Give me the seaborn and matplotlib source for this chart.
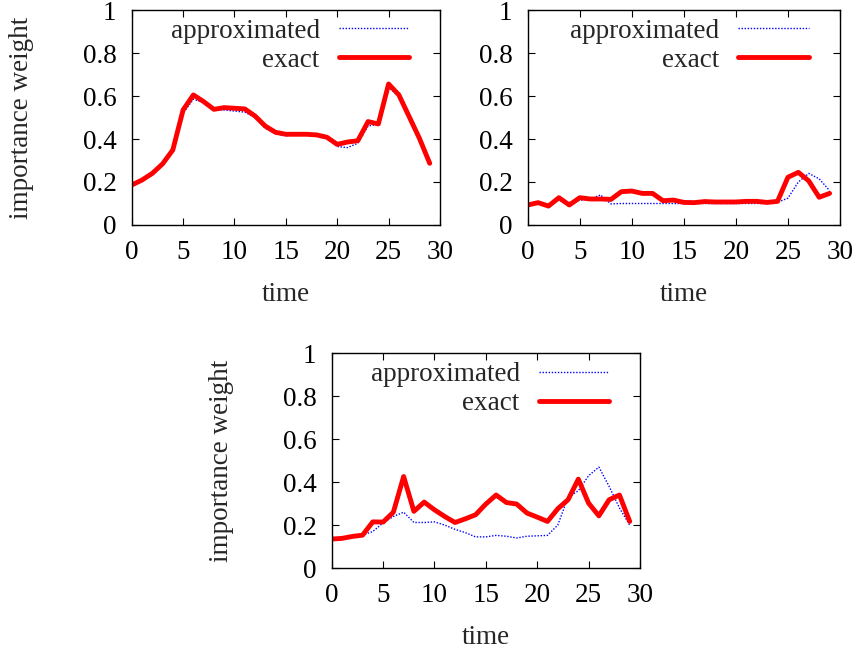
import numpy as np
import pandas as pd
import matplotlib
matplotlib.use("Agg")
import matplotlib.pyplot as plt
import seaborn as sns

# time steps 0..29
time = list(range(30))

# panel 1 (top left)
exact_1 = [0.186, 0.209, 0.24, 0.284, 0.349, 0.535, 0.605, 0.574, 0.538, 0.546,
           0.543, 0.54, 0.507, 0.46, 0.431, 0.422, 0.422, 0.422, 0.419, 0.408,
           0.375, 0.386, 0.392, 0.481, 0.47, 0.656, 0.605, 0.504, 0.403, 0.287]
approx_1 = [0.186, 0.209, 0.24, 0.284, 0.345, 0.52, 0.585, 0.57, 0.535, 0.535,
            0.53, 0.525, 0.5, 0.45, 0.425, 0.415, 0.42, 0.42, 0.419, 0.405,
            0.365, 0.36, 0.38, 0.46, 0.47, 0.64, 0.6, 0.504, 0.403, 0.287]

# panel 2 (top right)
exact_2 = [0.093, 0.104, 0.088, 0.127, 0.093, 0.127, 0.121, 0.121, 0.119, 0.155,
           0.158, 0.147, 0.147, 0.113, 0.116, 0.105, 0.104, 0.109, 0.107, 0.107,
           0.107, 0.11, 0.11, 0.105, 0.11, 0.222, 0.245, 0.205, 0.129, 0.147]
approx_2 = [0.09, 0.1, 0.095, 0.115, 0.105, 0.115, 0.12, 0.14, 0.098, 0.1,
            0.1, 0.1, 0.1, 0.1, 0.1, 0.1, 0.1, 0.1, 0.1, 0.1,
            0.1, 0.1, 0.1, 0.1, 0.105, 0.125, 0.2, 0.24, 0.215, 0.16]

# panel 3 (bottom)
exact_3 = [0.135, 0.138, 0.147, 0.153, 0.215, 0.214, 0.26, 0.426, 0.264, 0.307,
           0.271, 0.24, 0.212, 0.229, 0.248, 0.298, 0.34, 0.305, 0.298, 0.256,
           0.237, 0.217, 0.276, 0.318, 0.414, 0.302, 0.243, 0.318, 0.34, 0.217]
approx_3 = [0.135, 0.138, 0.147, 0.153, 0.17, 0.21, 0.24, 0.26, 0.212, 0.212,
            0.215, 0.2, 0.18, 0.165, 0.145, 0.145, 0.152, 0.148, 0.14, 0.148,
            0.15, 0.152, 0.2, 0.33, 0.36, 0.43, 0.47, 0.38, 0.28, 0.2]

FS = 19.5

sns.set_style("ticks")
plt.rcParams['font.family'] = ['Liberation Serif', 'DejaVu Serif']
plt.rcParams['font.size'] = FS

fig = plt.figure(figsize=(8.58, 6.55), dpi=100)
boxes = [
    [0.1535, 0.6565, 0.3593, 0.3282],
    [0.615, 0.6565, 0.364, 0.3282],
    [0.3866, 0.1328, 0.3593, 0.3278],
]
panels = [(approx_1, exact_1, True), (approx_2, exact_2, False), (approx_3, exact_3, True)]

for box, (ap, ex, show_ylabel) in zip(boxes, panels):
    ax = fig.add_axes(box)
    sns.lineplot(x=time, y=ap, ax=ax, color='blue', lw=1.0, linestyle=(0, (1, 1.2)),
                 label='approximated')
    sns.lineplot(x=time, y=ex, ax=ax, color='red', lw=3.5, label='exact')
    ax.set_xlim(0, 30)
    ax.set_ylim(0, 1)
    ax.set_xticks([0, 5, 10, 15, 20, 25, 30])
    ax.set_yticks([0, 0.2, 0.4, 0.6, 0.8, 1])
    ax.set_yticklabels(['0', '0.2', '0.4', '0.6', '0.8', '1'])
    ax.tick_params(direction='in', top=True, right=True, length=5, width=0.8,
                   labelsize=FS, pad=11, colors='black')
    for s in ax.spines.values():
        s.set_linewidth(1.0)
        s.set_color('black')
    ax.set_xlabel('time', fontsize=FS, labelpad=12)
    if show_ylabel:
        ax.set_ylabel('importance weight', fontsize=FS, va='center')
        ax.yaxis.set_label_coords(-0.357, 0.5)
    else:
        ax.set_ylabel('')
    ax.legend(loc='upper right', bbox_to_anchor=(0.935, 1.01), frameon=False,
              markerfirst=False, handlelength=2.6, fontsize=FS, borderaxespad=0.0,
              labelspacing=0.15, handletextpad=0.7)

fig.savefig('out.png', dpi=100)
plt.close(fig)
